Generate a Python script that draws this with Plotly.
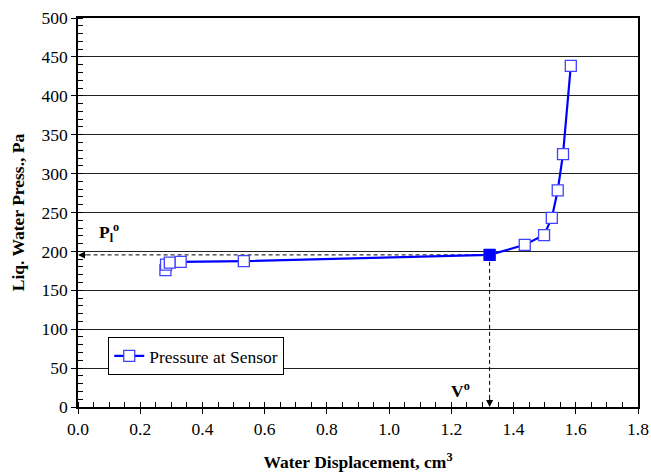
import plotly.graph_objects as go

disp = [0.281, 0.283, 0.295, 0.330, 0.533, 1.323, 1.436, 1.498, 1.523, 1.542, 1.559, 1.584]
press = [176, 183, 185.5, 186.5, 187.5, 195.5, 208.5, 221, 243, 278.5, 325, 438.5]
v0 = 1.323
p0 = 195.5

FONT = "Times New Roman, serif"
BLUE = "#0000FF"

fig = go.Figure()
fig.add_trace(go.Scatter(x=[v0, 0.008], y=[p0, p0], mode="lines",
                         line=dict(color="black", width=1, dash="4px,3px"),
                         showlegend=False, hoverinfo="skip"))
fig.add_trace(go.Scatter(x=[v0, v0], y=[p0, 4], mode="lines",
                         line=dict(color="black", width=1, dash="4px,3px"),
                         showlegend=False, hoverinfo="skip"))

fig.add_trace(go.Scatter(
    x=disp, y=press, mode="lines+markers", name="Pressure at Sensor",
    line=dict(color=BLUE, width=2.2),
    marker=dict(symbol="square", size=11, color="white",
                line=dict(color="#4040FF", width=1.3)),
))
fig.add_trace(go.Scatter(
    x=[v0], y=[p0], mode="markers", showlegend=False,
    marker=dict(symbol="square", size=11, color=BLUE, line=dict(color=BLUE, width=1)),
))

fig.add_annotation(x=0, y=p0, ax=10, ay=0, xref="x", yref="y", text="",
                   showarrow=True, arrowhead=2, arrowsize=1.4, arrowwidth=1, arrowcolor="black")
fig.add_annotation(x=v0, y=0, ax=0, ay=-10, xref="x", yref="y", text="",
                   showarrow=True, arrowhead=2, arrowsize=1.4, arrowwidth=1, arrowcolor="black")

fig.add_annotation(x=0.1, y=224, xref="x", yref="y", text="<b>P<sub>l</sub><sup>o</sup></b>",
                   showarrow=False, font=dict(family=FONT, size=17.5, color="black"))
fig.add_annotation(x=1.23, y=22, xref="x", yref="y", text="<b>V<sup>o</sup></b>",
                   showarrow=False, font=dict(family=FONT, size=17.5, color="black"))

fig.update_layout(
    width=651, height=472,
    margin=dict(l=78, r=13, t=18, b=65),
    paper_bgcolor="white", plot_bgcolor="white",
    font=dict(family=FONT, size=17.5, color="black"),
    showlegend=True,
    legend=dict(x=0.054, y=0.18, xanchor="left", yanchor="top",
                bgcolor="white", bordercolor="black", borderwidth=1,
                font=dict(family=FONT, size=17.5), itemwidth=30,
                tracegroupgap=0),
    xaxis=dict(range=[0, 1.8], dtick=0.2, tickformat=".1f", automargin=False,
               showgrid=False, zeroline=False,
               showline=True, linecolor="black", linewidth=1.5, mirror=True,
               ticks="outside", ticklen=5, tickcolor="black",
               tickfont=dict(family=FONT, size=17.5),
               minor=dict(dtick=0.05, ticks="inside", ticklen=5, tickcolor="black"),
               title=dict(text="<b>Water Displacement, cm<sup>3</sup></b>",
                          font=dict(family=FONT, size=17.5), standoff=20)),
    yaxis=dict(range=[0, 500], dtick=50, automargin=False,
               showgrid=True, gridcolor="#222222", gridwidth=1.2, zeroline=False,
               showline=True, linecolor="black", linewidth=1.5, mirror=True,
               ticks="outside", ticklen=5, tickcolor="black",
               tickfont=dict(family=FONT, size=17.5),
               minor=dict(dtick=10, ticks="inside", ticklen=5, tickcolor="black", showgrid=False),
               title=dict(text="<b>Liq. Water Press., Pa</b>",
                          font=dict(family=FONT, size=17.5), standoff=12)),
)

fig.write_html("out.html", config={"displayModeBar": False},
               post_script="document.body.style.margin='0';")
